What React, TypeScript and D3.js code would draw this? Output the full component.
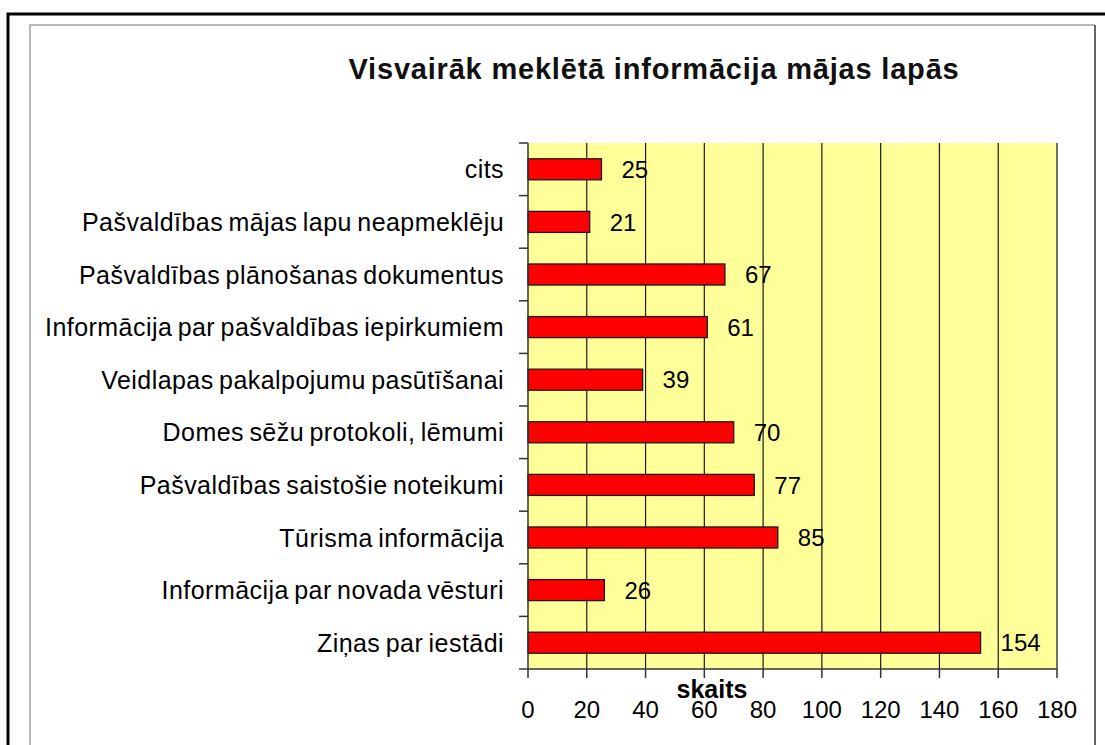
import React from 'react';
import * as d3 from 'd3';

const title = 'Visvairāk meklētā informācija mājas lapās';
const axisTitle = 'skaits';
const categories = [
  'cits',
  'Pašvaldības mājas lapu neapmeklēju',
  'Pašvaldības plānošanas dokumentus',
  'Informācija par pašvaldības iepirkumiem',
  'Veidlapas pakalpojumu pasūtīšanai',
  'Domes sēžu protokoli, lēmumi',
  'Pašvaldības saistošie noteikumi',
  'Tūrisma informācija',
  'Informācija par novada vēsturi',
  'Ziņas par iestādi',
];
const values = [25, 21, 67, 61, 39, 70, 77, 85, 26, 154];
const xTicks = [0, 20, 40, 60, 80, 100, 120, 140, 160, 180];

const W = 1105, H = 745;
const plot = { left: 528, right: 1057, top: 143, bottom: 669 };
const font = '"Liberation Sans", Arial, sans-serif';

export default function App() {
  const x = d3.scaleLinear().domain([0, 180]).range([plot.left, plot.right]);
  const y = d3.scaleBand<string>().domain(categories).range([plot.top, plot.bottom]).paddingInner(0.6).paddingOuter(0.3);
  const band = d3.scaleBand<string>().domain(categories).range([plot.top, plot.bottom]);

  return (
    <svg width={W} height={H} style={{ position: 'absolute', left: 0, top: 0, background: '#fff' }} fontFamily={font}>
      {/* frames */}
      <path d={`M8,${H} V14 H${W}`} fill="none" stroke="#000" strokeWidth={3} />
      <path d={`M30,${H} V25 H1095`} fill="none" stroke="#a0a0a0" strokeWidth={1.5} />
      <line x1={1095} x2={1095} y1={25} y2={H} stroke="#333" strokeWidth={1.5} />

      <text x={654} y={79} textAnchor="middle" fontSize={29} fontWeight="bold" letterSpacing={0.8} fill="#111">{title}</text>

      {/* plot background */}
      <rect x={plot.left} y={plot.top} width={plot.right - plot.left} height={plot.bottom - plot.top} fill="#ffff99" />

      {/* gridlines */}
      {xTicks.slice(1).map((t) => (
        <line key={t} x1={x(t)} x2={x(t)} y1={plot.top} y2={plot.bottom} stroke="#1a1a1a" strokeWidth={1.2} />
      ))}

      {/* bars */}
      {categories.map((c, i) => (
        <rect key={c} x={x(0)} y={y(c)} width={x(values[i]) - x(0)} height={y.bandwidth()}
          fill="#ff0000" stroke="#1a1a1a" strokeWidth={1.3} />
      ))}

      {/* value labels */}
      {categories.map((c, i) => (
        <text key={c} x={x(values[i]) + 20} y={(y(c) as number) + y.bandwidth() / 2} dy="0.36em"
          fontSize={24} fill="#000">{values[i]}</text>
      ))}

      {/* y axis */}
      <line x1={plot.left} x2={plot.left} y1={plot.top} y2={plot.bottom} stroke="#333" strokeWidth={1.5} />
      {d3.range(categories.length + 1).map((i) => {
        const yy = plot.top + i * band.step();
        return <line key={i} x1={plot.left - 9} x2={plot.left} y1={yy} y2={yy} stroke="#333" strokeWidth={1.5} />;
      })}
      {categories.map((c) => (
        <text key={c} x={504} y={(band(c) as number) + band.bandwidth() / 2} dy="0.36em" textAnchor="end"
          fontSize={25} letterSpacing={0.45} wordSpacing={-2} fill="#000">{c}</text>
      ))}

      {/* x axis */}
      <line x1={plot.left} x2={plot.right} y1={plot.bottom} y2={plot.bottom} stroke="#333" strokeWidth={1.5} />
      {xTicks.map((t) => (
        <g key={t}>
          <line x1={x(t)} x2={x(t)} y1={plot.bottom} y2={plot.bottom + 9} stroke="#333" strokeWidth={1.5} />
          <text x={x(t)} y={718} textAnchor="middle" fontSize={24} fill="#000">{t}</text>
        </g>
      ))}
      <text x={712} y={698} textAnchor="middle" fontSize={25} fontWeight="bold" fill="#000">{axisTitle}</text>
    </svg>
  );
}
